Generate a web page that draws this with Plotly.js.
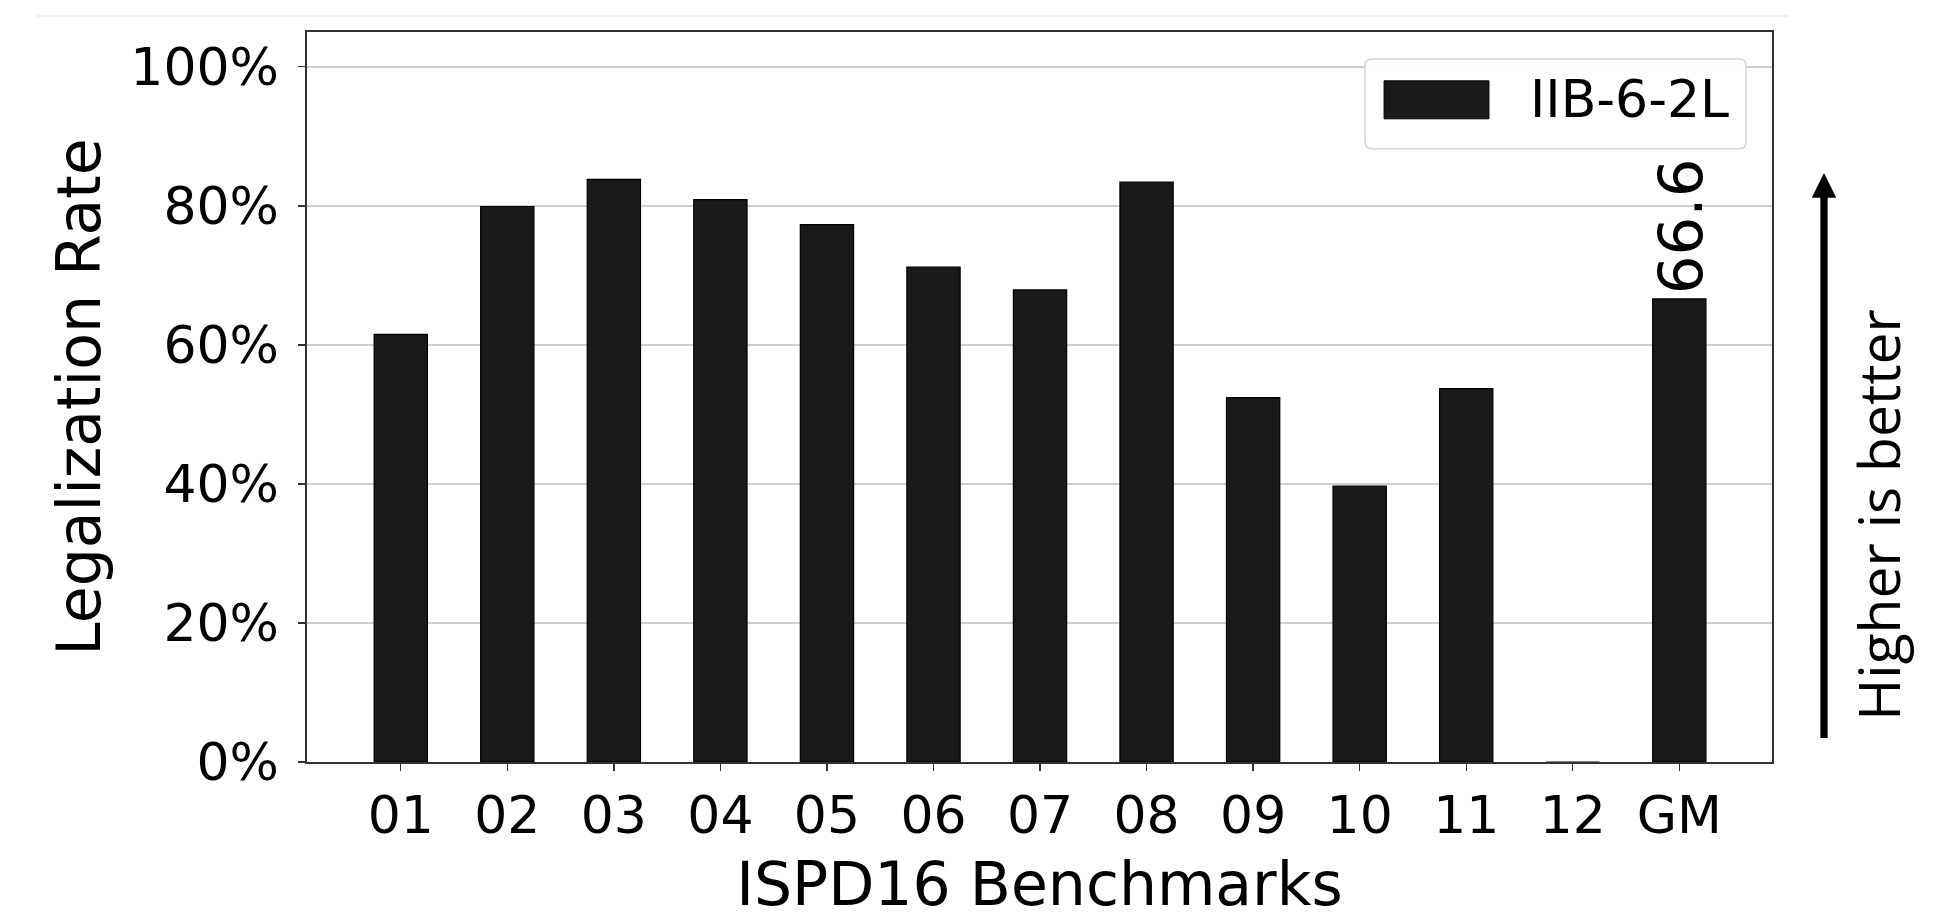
<!DOCTYPE html>
<html>
<head>
<meta charset="utf-8">
<script src="https://cdn.plot.ly/plotly-3.0.1.min.js"></script>
<style>
  html, body { margin: 0; padding: 0; background: #ffffff; }
  #chart { width: 1951px; height: 919px; }
</style>
</head>
<body>
<div id="chart"></div>
<script>
// ---- data ----
const benchmarks = ['01', '02', '03', '04', '05', '06', '07', '08', '09', '10', '11', '12', 'GM'];
const legalizationRate = [61.5, 79.9, 83.8, 80.9, 77.3, 71.2, 67.9, 83.4, 52.4, 39.7, 53.7, 0, 66.6];
const seriesName = 'IIB-6-2L';
const yTickValues = [0, 20, 40, 60, 80, 100];
const yTickLabels = ['0%', '20%', '40%', '60%', '80%', '100%'];
const gmLabel = legalizationRate[legalizationRate.length - 1].toFixed(1);

const FONT = 'DejaVu Sans, Liberation Sans, sans-serif';

const trace = {
  type: 'bar',
  x: benchmarks,
  y: legalizationRate,
  name: seriesName,
  width: 0.5,
  marker: { color: '#1a1a1a', line: { color: '#000000', width: 1.2 } },
  showlegend: false,
  hoverinfo: 'x+y'
};

// legend box geometry (paper coords)
const lx0 = 0.7222, lx1 = 0.9823, ly0 = 0.8402, ly1 = 0.9631;
const rx = 0.0048, ry = 0.0096;
const legendPath =
  `M${lx0 + rx},${ly0} L${lx1 - rx},${ly0} Q${lx1},${ly0} ${lx1},${ly0 + ry} ` +
  `L${lx1},${ly1 - ry} Q${lx1},${ly1} ${lx1 - rx},${ly1} ` +
  `L${lx0 + rx},${ly1} Q${lx0},${ly1} ${lx0},${ly1 - ry} ` +
  `L${lx0},${ly0 + ry} Q${lx0},${ly0} ${lx0 + rx},${ly0} Z`;

// arrow geometry (paper coords)
const ax = 1.0355, ayBottom = 0.0328, ayHeadBase = 0.7732, ayTip = 0.8060, ahw = 0.0081;

const layout = {
  width: 1951,
  height: 919,
  margin: { l: 307, r: 179, t: 32, b: 155, pad: 0 },
  paper_bgcolor: '#ffffff',
  plot_bgcolor: '#ffffff',
  font: { family: FONT, color: '#000000', size: 52 },
  bargap: 0.5,
  xaxis: {
    type: 'category',
    range: [-0.88, 12.87],
    showgrid: false,
    showline: true,
    linecolor: '#333333',
    linewidth: 1.6,
    mirror: true,
    ticks: 'outside',
    ticklen: 7,
    tickwidth: 1.4,
    tickcolor: '#333333',
    tickfont: { family: FONT, size: 52, color: '#000000' },
    ticklabelstandoff: 0,
    zeroline: false,
    automargin: true,
    title: { text: 'ISPD16 Benchmarks', font: { family: FONT, size: 60, color: '#000000' }, standoff: 20 }
  },
  yaxis: {
    range: [0, 105],
    tickvals: yTickValues,
    ticktext: yTickLabels,
    showgrid: true,
    gridcolor: '#cfcfcf',
    gridwidth: 1.6,
    showline: true,
    linecolor: '#333333',
    linewidth: 1.6,
    mirror: true,
    ticks: 'outside',
    ticklen: 7,
    tickwidth: 1.4,
    tickcolor: '#333333',
    tickfont: { family: FONT, size: 52, color: '#000000' },
    ticklabelstandoff: 9,
    zeroline: false,
    automargin: true,
    title: { text: 'Legalization Rate', font: { family: FONT, size: 60, color: '#000000' }, standoff: 10 }
  },
  shapes: [
    // faint rule at the very top of the figure
    { type: 'line', xref: 'paper', yref: 'paper', x0: -0.1843, x1: 1.0109, y0: 1.0219, y1: 1.0219,
      line: { color: '#eeeeee', width: 2 } },
    // legend frame
    { type: 'path', xref: 'paper', yref: 'paper', path: legendPath,
      fillcolor: 'rgba(255,255,255,0.95)', line: { color: '#d6d6d6', width: 1.5 }, layer: 'above' },
    // legend swatch
    { type: 'rect', xref: 'paper', yref: 'paper', x0: 0.7352, x1: 0.8068, y0: 0.8811, y1: 0.9331,
      fillcolor: '#1a1a1a', line: { color: '#000000', width: 1 }, layer: 'above' },
    // "higher is better" arrow shaft
    { type: 'line', xref: 'paper', yref: 'paper', x0: ax, x1: ax, y0: ayBottom, y1: ayHeadBase + 0.002,
      line: { color: '#000000', width: 7.3 } },
    // arrow head
    { type: 'path', xref: 'paper', yref: 'paper',
      path: `M${ax - ahw},${ayHeadBase} L${ax + ahw},${ayHeadBase} L${ax},${ayTip} Z`,
      fillcolor: '#000000', line: { color: '#000000', width: 0.5 } }
  ],
  annotations: [
    { xref: 'x', yref: 'y', x: 'GM', y: legalizationRate[12], text: gmLabel, showarrow: false,
      textangle: -90, xanchor: 'center', yanchor: 'bottom', xshift: 2, yshift: 3,
      font: { family: FONT, size: 61, color: '#000000' } },
    { xref: 'paper', yref: 'paper', x: 0.8334, y: 0.9085, text: seriesName, showarrow: false,
      xanchor: 'left', yanchor: 'middle', font: { family: FONT, size: 52, color: '#000000' } },
    { xref: 'paper', yref: 'paper', x: 1.0724, y: 0.3388, text: 'Higher is better', showarrow: false,
      textangle: -90, xanchor: 'center', yanchor: 'middle',
      font: { family: 'Open Sans, Noto Sans, sans-serif', size: 57, color: '#000000' } }
  ]
};

Plotly.newPlot('chart', [trace], layout, { displayModeBar: false, staticPlot: true });
</script>
</body>
</html>
